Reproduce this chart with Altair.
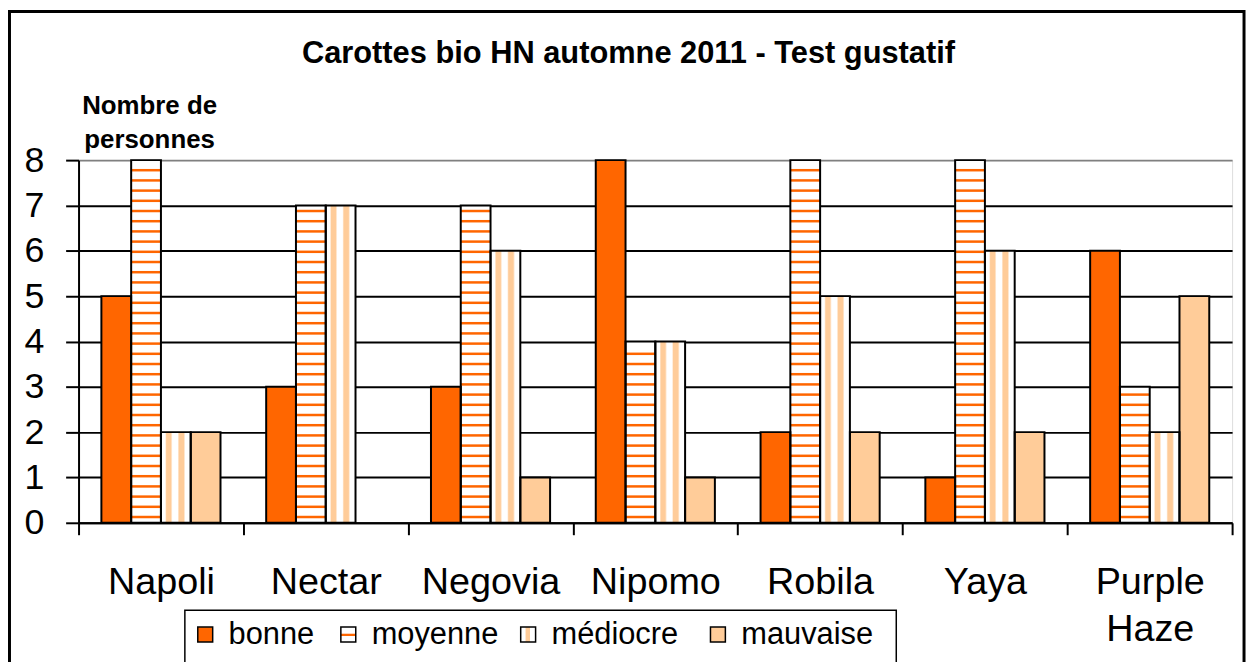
import altair as alt
import pandas as pd

# ---------------- data ----------------
categories = ["Napoli", "Nectar", "Negovia", "Nipomo", "Robila", "Yaya", "Purple Haze"]
series = ["bonne", "moyenne", "médiocre", "mauvaise"]
bonne = [5, 3, 3, 8, 2, 1, 6]
moyenne = [8, 7, 7, 4, 8, 8, 3]
mediocre = [2, 7, 6, 4, 5, 6, 2]
mauvaise = [2, 0, 1, 1, 2, 2, 5]
y_ticks = [0, 1, 2, 3, 4, 5, 6, 7, 8]
title_text = "Carottes bio HN automne 2011 - Test gustatif"
y_title = ["Nombre de", "personnes"]

# ---------------- styling / layout ----------------
ORANGE = "#FF6600"
PEACH = "#FFCC99"
FONT = "Liberation Sans"
W, H = 1161, 365
legend_sym_x = [120, 264, 445, 636]   # px, relative to plot origin
legend_text_dx = 31
legend_sym_y = (470, 485)
legend_text_y = 487
legend_box = (107, 823, 453, 520)
frame_box = (-69.5, 1173, -149.5, 520)

rows = []
for i, c in enumerate(categories):
    for s, vals in zip(series, [bonne, moyenne, mediocre, mauvaise]):
        rows.append({"variete": c, "note": s, "n": vals[i]})
df = pd.DataFrame(rows)

# horizontal stripe pattern inside the "moyenne" bars (decoration only)
STEP, THICK, START = 0.225, 0.055, 0.1
stripe_rows = []
for i, c in enumerate(categories):
    v = moyenne[i]
    k = 0
    while START + k * STEP + THICK < v - 0.03:
        y0 = START + k * STEP
        stripe_rows.append({"variete": c, "note": "moyenne", "s0": y0, "s1": y0 + THICK})
        k += 1
stripes_df = pd.DataFrame(stripe_rows)

legend_df = pd.DataFrame({
    "note": series,
    "sx": legend_sym_x,
    "sx2": [v + 15 for v in legend_sym_x],
    "tx": [v + legend_text_dx for v in legend_sym_x],
})

x_enc = alt.X(
    "variete:N", sort=categories,
    scale=alt.Scale(domain=categories, paddingInner=0, paddingOuter=0),
    axis=alt.Axis(
        title=None, labelAngle=0, labelFont=FONT, labelFontSize=38, labelColor="black",
        labelPadding=29, labelOverlap=False, labelLineHeight=47, labelLimit=300,
        labelExpr="datum.label == 'Purple Haze' ? ['Purple', 'Haze'] : datum.label",
        domainColor="black", domainWidth=2, tickColor="black", tickWidth=2, tickSize=12,
        tickBand="extent", grid=False,
    ),
)
xo_enc = alt.XOffset("note:N", sort=series,
                     scale=alt.Scale(domain=series, paddingInner=0, paddingOuter=0.767))
y_scale = alt.Scale(domain=[0, 8], nice=False, zero=True)
y_axis = alt.Axis(
    values=y_ticks, format="d", title=y_title, titleAngle=0, titleAlign="center",
    titleBaseline="top", titleX=71, titleY=-68, titleFont=FONT, titleFontSize=26,
    titleFontWeight="bold", titleLineHeight=34, titleColor="black",
    labelFont=FONT, labelFontSize=36, labelColor="black", labelPadding=22,
    domainColor="black", domainWidth=2, tickColor="black", tickWidth=2, tickSize=13,
    grid=True, gridWidth=2,
    gridColor={"condition": {"test": "datum.value == 8", "value": "#808080"}, "value": "black"},
)
y_enc = alt.Y("n:Q", scale=y_scale, axis=y_axis)

base = alt.Chart(df)

fills = base.mark_bar(strokeWidth=0).encode(
    x=x_enc, xOffset=xo_enc, y=y_enc,
    color=alt.Color("note:N", scale=alt.Scale(domain=series, range=[ORANGE, "#FFFFFF", "#FFFFFF", PEACH]),
                    legend=None),
)

vert_grad = alt.LinearGradient(
    gradient="linear", x1=0, y1=0, x2=1, y2=0,
    stops=[
        alt.GradientStop(offset=0.0, color="#FFFFFF"),
        alt.GradientStop(offset=0.14, color="#FFFFFF"),
        alt.GradientStop(offset=0.19, color=PEACH),
        alt.GradientStop(offset=0.33, color=PEACH),
        alt.GradientStop(offset=0.39, color="#FFFFFF"),
        alt.GradientStop(offset=0.56, color="#FFFFFF"),
        alt.GradientStop(offset=0.61, color=PEACH),
        alt.GradientStop(offset=0.76, color=PEACH),
        alt.GradientStop(offset=0.82, color="#FFFFFF"),
        alt.GradientStop(offset=1.0, color="#FFFFFF"),
    ],
)
med = base.transform_filter(alt.datum.note == "médiocre").mark_bar(
    fill=vert_grad, strokeWidth=0
).encode(x=x_enc, xOffset=xo_enc, y=y_enc)

stripes = alt.Chart(stripes_df).mark_bar(color=ORANGE, strokeWidth=0).encode(
    x=x_enc, xOffset=xo_enc,
    y=alt.Y("s0:Q", scale=y_scale, axis=y_axis), y2="s1:Q",
)

outline = base.transform_filter(alt.datum.n > 0).mark_bar(
    fillOpacity=0, stroke="black", strokeWidth=2
).encode(x=x_enc, xOffset=xo_enc, y=y_enc)

one = pd.DataFrame({"k": [0]})
frame = alt.Chart(one).mark_rect(fillOpacity=0, stroke="black", strokeWidth=3).encode(
    x=alt.value(frame_box[0]), x2=alt.value(frame_box[1]),
    y=alt.value(frame_box[2]), y2=alt.value(frame_box[3]),
)
lbox = alt.Chart(one).mark_rect(fill="white", stroke="black", strokeWidth=1.5).encode(
    x=alt.value(legend_box[0]), x2=alt.value(legend_box[1]),
    y=alt.value(legend_box[2]), y2=alt.value(legend_box[3]),
)

leg = alt.Chart(legend_df)
sym_fill = leg.mark_rect(strokeWidth=0).encode(
    x=alt.X("sx:Q", scale=None, axis=None), x2="sx2:Q",
    y=alt.value(legend_sym_y[0]), y2=alt.value(legend_sym_y[1]),
    color=alt.Color("note:N", scale=alt.Scale(domain=series, range=[ORANGE, "#FFFFFF", "#FFFFFF", PEACH]),
                    legend=None),
)
h_line_grad = alt.LinearGradient(
    gradient="linear", x1=0, y1=0, x2=0, y2=1,
    stops=[
        alt.GradientStop(offset=0.0, color="#FFFFFF"),
        alt.GradientStop(offset=0.42, color="#FFFFFF"),
        alt.GradientStop(offset=0.45, color=ORANGE),
        alt.GradientStop(offset=0.6, color=ORANGE),
        alt.GradientStop(offset=0.63, color="#FFFFFF"),
        alt.GradientStop(offset=1.0, color="#FFFFFF"),
    ],
)
v_line_grad = alt.LinearGradient(
    gradient="linear", x1=0, y1=0, x2=1, y2=0,
    stops=[
        alt.GradientStop(offset=0.0, color="#FFFFFF"),
        alt.GradientStop(offset=0.3, color="#FFFFFF"),
        alt.GradientStop(offset=0.35, color=PEACH),
        alt.GradientStop(offset=0.6, color=PEACH),
        alt.GradientStop(offset=0.65, color="#FFFFFF"),
        alt.GradientStop(offset=1.0, color="#FFFFFF"),
    ],
)
sym_moy = leg.transform_filter(alt.datum.note == "moyenne").mark_rect(fill=h_line_grad, strokeWidth=0).encode(
    x=alt.X("sx:Q", scale=None, axis=None), x2="sx2:Q",
    y=alt.value(legend_sym_y[0]), y2=alt.value(legend_sym_y[1]),
)
sym_med = leg.transform_filter(alt.datum.note == "médiocre").mark_rect(fill=v_line_grad, strokeWidth=0).encode(
    x=alt.X("sx:Q", scale=None, axis=None), x2="sx2:Q",
    y=alt.value(legend_sym_y[0]), y2=alt.value(legend_sym_y[1]),
)
sym_out = leg.mark_rect(fillOpacity=0, stroke="black", strokeWidth=1.5).encode(
    x=alt.X("sx:Q", scale=None, axis=None), x2="sx2:Q",
    y=alt.value(legend_sym_y[0]), y2=alt.value(legend_sym_y[1]),
)
leg_text = leg.mark_text(align="left", baseline="alphabetic", font=FONT, fontSize=31, color="black").encode(
    x=alt.X("tx:Q", scale=None, axis=None),
    y=alt.value(legend_text_y),
    text="note:N",
)

chart = alt.layer(
    fills, med, stripes, outline, frame, lbox, sym_fill, sym_moy, sym_med, sym_out, leg_text
).properties(
    width=W, height=H,
    title=alt.TitleParams(text=title_text, font=FONT, fontSize=31, fontWeight="bold", color="black",
                          anchor="middle", frame="group", dx=-27, baseline="alphabetic", offset=-84),
    padding={"left": 71, "top": 151, "right": 16, "bottom": 138},
    autosize=alt.AutoSizeParams(type="none"),
).configure_view(
    stroke="#808080", strokeWidth=2
).configure(background="white")

chart.save("out.html", embed_options={"renderer": "svg", "actions": False})
